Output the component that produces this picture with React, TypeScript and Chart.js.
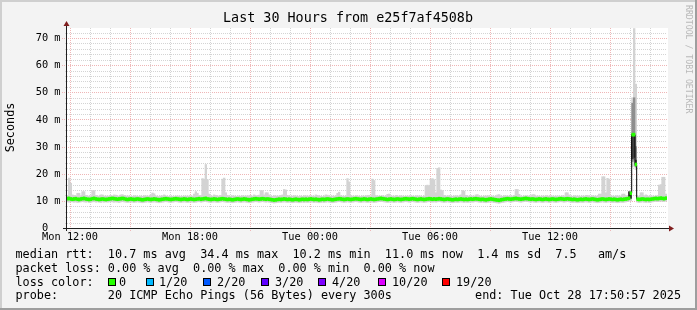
import React, { useEffect, useRef } from 'react';
import { Chart, registerables } from 'chart.js';

Chart.register(...registerables);

const W = 697;
const H = 310;
const MONO = '"DejaVu Sans Mono", "Liberation Mono", monospace';

// ---- time axis (hours relative to Mon 12:00) ----
const X_MIN = -0.1508; // Mon 11:50:57
const X_MAX = 29.8492; // Tue 17:50:57
const FIRST_STEP_CENTER = -0.125; // centre of the 11:50-11:55 step
const STEP_HOURS = 1 / 12; // 5 minute steps
const Y_MAX = 73.7; // ms

const xTickHours = [0, 6, 12, 18, 24];
const xTickLabels = ['Mon 12:00', 'Mon 18:00', 'Tue 00:00', 'Tue 06:00', 'Tue 12:00'];
const yTickValues = [0, 10, 20, 30, 40, 50, 60, 70];
const yTickLabels = ['0  ', '10 m', '20 m', '30 m', '40 m', '50 m', '60 m', '70 m'];

// ---- median rtt (ms), one value per 5 minute step ----
const medianRtt: number[] = [
  10.8, 10.9, 10.7, 10.6, 10.7, 10.8, 10.6, 10.5, 10.7, 10.8, 10.9, 10.7, 10.6, 10.5, 10.6, 10.8, 10.9, 10.7, 10.6, 10.5, 10.6, 10.7, 10.6, 10.5,
  10.6, 10.7, 10.8, 10.9, 10.8, 10.7, 10.6, 10.7, 10.8, 10.9, 10.8, 10.6, 10.5, 10.6, 10.7, 10.6, 10.5, 10.6, 10.7, 10.6, 10.5, 10.4, 10.5, 10.6,
  10.7, 10.6, 10.5, 10.6, 10.7, 10.6, 10.5, 10.4, 10.5, 10.6, 10.7, 10.8, 10.7, 10.6, 10.5, 10.6, 10.7, 10.8, 10.7, 10.6, 10.5, 10.6, 10.7, 10.6,
  10.5, 10.6, 10.7, 10.6, 10.5, 10.6, 10.7, 10.8, 10.6, 10.7, 10.8, 10.9, 10.7, 10.6, 10.5, 10.6, 10.7, 10.6, 10.5, 10.6, 10.7, 10.8, 10.7, 10.6,
  10.5, 10.6, 10.5, 10.4, 10.5, 10.6, 10.7, 10.6, 10.5, 10.6, 10.7, 10.6, 10.5, 10.4, 10.5, 10.6, 10.7, 10.8, 10.7, 10.6, 10.7, 10.8, 10.7, 10.6,
  10.7, 10.6, 10.5, 10.4, 10.3, 10.4, 10.5, 10.6, 10.5, 10.6, 10.7, 10.6, 10.5, 10.6, 10.5, 10.4, 10.5, 10.6, 10.5, 10.4, 10.5, 10.6, 10.5, 10.6,
  10.5, 10.6, 10.7, 10.6, 10.5, 10.6, 10.5, 10.4, 10.5, 10.6, 10.5, 10.6, 10.7, 10.6, 10.5, 10.4, 10.5, 10.6, 10.7, 10.8, 10.7, 10.6, 10.5, 10.6,
  10.7, 10.6, 10.5, 10.6, 10.7, 10.8, 10.7, 10.6, 10.5, 10.6, 10.7, 10.6, 10.5, 10.6, 10.7, 10.6, 10.5, 10.6, 10.7, 10.8, 10.9, 10.8, 10.7, 10.6,
  10.5, 10.6, 10.7, 10.6, 10.5, 10.6, 10.7, 10.6, 10.5, 10.6, 10.7, 10.8, 10.7, 10.6, 10.7, 10.8, 10.7, 10.6, 10.5, 10.6, 10.7, 10.6, 10.5, 10.6,
  10.7, 10.8, 10.7, 10.6, 10.7, 10.6, 10.7, 10.8, 10.7, 10.6, 10.5, 10.6, 10.7, 10.6, 10.5, 10.4, 10.5, 10.6, 10.5, 10.6, 10.7, 10.6, 10.5, 10.6,
  10.5, 10.6, 10.7, 10.6, 10.7, 10.8, 10.7, 10.6, 10.5, 10.6, 10.5, 10.4, 10.5, 10.6, 10.7, 10.6, 10.5, 10.4, 10.3, 10.2, 10.4, 10.5, 10.6, 10.7,
  10.8, 10.7, 10.6, 10.7, 10.8, 10.9, 10.8, 10.7, 10.6, 10.7, 10.8, 10.9, 10.8, 10.7, 10.6, 10.7, 10.6, 10.5, 10.6, 10.7, 10.6, 10.5, 10.6, 10.7,
  10.6, 10.5, 10.6, 10.7, 10.6, 10.5, 10.6, 10.7, 10.8, 10.7, 10.6, 10.7, 10.8, 10.7, 10.6, 10.5, 10.6, 10.5, 10.4, 10.5, 10.6, 10.5, 10.6, 10.7,
  10.6, 10.5, 10.6, 10.7, 10.6, 10.5, 10.4, 10.5, 10.6, 10.7, 10.6, 10.5, 10.6, 10.7, 10.6, 10.5, 10.6, 10.5, 10.4, 10.5, 10.6, 10.5, 10.6, 10.7,
  10.8, 11.0, 12.8, 34.4, 34.4, 23.4, 10.6, 10.5, 10.6, 10.7, 10.6, 10.5, 10.6, 10.5, 10.6, 10.7, 10.8, 10.9, 10.8, 10.9, 11.0, 10.9, 10.8, 11.0,
];

// ---- smoke: highest ping per step (ms) ----
const smokeHigh: number[] = [
  11.8, 18.4, 16.5, 12.2, 12.0, 11.8, 12.8, 12.8, 11.9, 13.4, 13.4, 12.0, 11.8, 11.7, 11.9, 13.8, 13.8, 12.0, 11.8, 11.7, 12.2, 12.2, 11.8, 11.7,
  11.8, 11.7, 12.0, 11.9, 12.2, 12.1, 11.8, 11.7, 12.2, 12.3, 12.0, 11.8, 11.7, 11.8, 11.6, 11.7, 11.9, 11.8, 11.7, 11.6, 11.8, 11.7, 11.9, 11.8,
  11.8, 11.7, 12.2, 12.9, 12.6, 11.8, 11.7, 11.6, 11.8, 11.9, 12.2, 11.8, 11.7, 11.6, 11.8, 11.7, 11.6, 11.8, 11.7, 11.8, 11.6, 11.7, 11.8, 11.7,
  11.8, 11.7, 11.9, 11.8, 12.5, 13.4, 12.8, 11.9, 12.0, 18.2, 18.0, 23.4, 17.8, 12.5, 11.9, 11.8, 12.2, 12.0, 11.7, 11.8, 12.0, 18.0, 18.4, 13.0,
  12.0, 11.8, 11.7, 11.9, 11.8, 11.7, 11.6, 11.8, 11.7, 11.9, 11.8, 11.7, 11.9, 11.8, 12.0, 11.8, 12.2, 11.9, 11.8, 12.1, 13.8, 13.8, 12.2, 13.0,
  13.0, 12.2, 11.8, 11.7, 11.9, 11.8, 11.7, 11.8, 12.0, 12.2, 14.2, 14.0, 12.0, 11.8, 11.7, 11.8, 11.9, 11.8, 11.7, 11.6, 11.8, 11.7, 11.9, 11.8,
  11.8, 11.7, 11.9, 11.8, 11.7, 12.2, 12.0, 11.8, 11.7, 11.6, 11.8, 12.2, 12.1, 11.8, 11.7, 11.8, 11.7, 11.9, 12.8, 13.2, 11.9, 11.8, 11.7, 11.8,
  18.2, 17.0, 12.0, 11.8, 11.7, 11.9, 11.8, 11.7, 11.6, 11.8, 11.7, 11.9, 11.8, 12.0, 11.8, 18.0, 17.5, 11.9, 11.8, 11.7, 11.8, 11.9, 11.7, 11.8,
  12.4, 12.5, 11.9, 11.8, 11.7, 12.0, 11.8, 11.7, 11.9, 11.8, 11.7, 11.6, 11.8, 11.7, 11.9, 11.8, 11.7, 11.8, 11.9, 11.7, 11.8, 11.6, 11.8, 15.6,
  15.8, 15.5, 18.0, 18.2, 17.8, 13.0, 22.0, 22.2, 14.0, 13.8, 12.0, 11.8, 11.7, 11.9, 11.8, 11.7, 11.8, 11.9, 11.7, 11.8, 12.2, 13.8, 13.6, 12.0,
  11.8, 11.7, 11.9, 11.8, 11.7, 12.2, 12.3, 11.8, 11.7, 11.6, 11.8, 11.7, 11.9, 11.8, 11.7, 11.8, 11.6, 11.8, 12.2, 12.3, 11.8, 11.7, 11.9, 11.8,
  11.8, 11.7, 11.9, 11.8, 12.0, 14.2, 14.2, 12.4, 11.8, 11.7, 11.8, 11.9, 11.7, 11.8, 11.9, 12.3, 12.3, 11.8, 11.7, 11.8, 11.6, 11.8, 11.7, 11.9,
  11.8, 11.7, 11.9, 11.8, 11.7, 11.8, 11.6, 11.8, 11.7, 11.9, 11.8, 13.0, 13.0, 12.2, 11.8, 11.7, 11.9, 11.8, 11.7, 11.8, 11.6, 11.8, 11.7, 12.0,
  12.0, 11.8, 11.7, 11.9, 11.8, 11.7, 11.8, 12.5, 12.5, 18.9, 18.9, 13.0, 18.3, 18.0, 11.9, 11.8, 11.7, 11.8, 11.9, 11.7, 11.8, 12.5, 12.5, 11.9,
  11.8, 12.6, 13.5, 48.0, 73.5, 53.0, 11.8, 11.7, 13.0, 13.0, 11.9, 12.2, 11.8, 11.7, 11.9, 11.8, 11.7, 11.8, 11.9, 15.8, 16.0, 18.7, 18.7, 12.5,
];

// ---- smoke: lowest ping per step (ms) ----
const smokeLow: number[] = [
  9.6, 9.5, 9.7, 9.6, 9.5, 9.6, 9.4, 9.5, 9.6, 9.7, 9.6, 9.5, 9.6, 9.4, 9.5, 9.6, 9.7, 9.5, 9.6, 9.5, 9.4, 9.6, 9.5, 9.6,
  9.5, 9.6, 9.7, 9.6, 9.5, 9.6, 9.5, 9.4, 9.6, 9.7, 9.6, 9.5, 9.4, 9.5, 9.6, 9.5, 9.4, 9.5, 9.6, 9.5, 9.4, 9.3, 9.4, 9.5,
  9.6, 9.5, 9.4, 9.5, 9.6, 9.5, 9.4, 9.3, 9.4, 9.5, 9.6, 9.7, 9.6, 9.5, 9.4, 9.5, 9.6, 9.7, 9.6, 9.5, 9.4, 9.5, 9.6, 9.5,
  9.4, 9.5, 9.6, 9.5, 9.4, 9.5, 9.6, 9.7, 9.5, 9.6, 9.7, 9.8, 9.6, 9.5, 9.4, 9.5, 9.6, 9.5, 9.4, 9.5, 9.6, 9.7, 9.6, 9.5,
  9.4, 9.5, 9.4, 9.3, 9.4, 9.5, 9.6, 9.5, 9.4, 9.5, 9.6, 9.5, 9.4, 9.3, 9.4, 9.5, 9.6, 9.7, 9.6, 9.5, 9.6, 9.7, 9.6, 9.5,
  9.6, 9.5, 9.4, 9.3, 9.2, 9.3, 9.4, 9.5, 9.4, 9.5, 9.6, 9.5, 9.4, 9.5, 9.4, 9.3, 9.4, 9.5, 9.4, 9.3, 9.4, 9.5, 9.4, 9.5,
  9.4, 9.5, 9.6, 9.5, 9.4, 9.5, 9.4, 9.3, 9.4, 9.5, 9.4, 9.5, 9.6, 9.5, 9.4, 9.3, 9.4, 9.5, 9.6, 9.7, 9.6, 9.5, 9.4, 9.5,
  9.6, 9.5, 9.4, 9.5, 9.6, 9.7, 9.6, 9.5, 9.4, 9.5, 9.6, 9.5, 9.4, 9.5, 9.6, 9.5, 9.4, 9.5, 9.6, 9.7, 9.8, 9.7, 9.6, 9.5,
  9.4, 9.5, 9.6, 9.5, 9.4, 9.5, 9.6, 9.5, 9.4, 9.5, 9.6, 9.7, 9.6, 9.5, 9.6, 9.7, 9.6, 9.5, 9.4, 9.5, 9.6, 9.5, 9.4, 9.5,
  9.6, 9.7, 9.6, 9.5, 9.6, 9.5, 9.6, 9.7, 9.6, 9.5, 9.4, 9.5, 9.6, 9.5, 9.4, 9.3, 9.4, 9.5, 9.4, 9.5, 9.6, 9.5, 9.4, 9.5,
  9.4, 9.5, 9.6, 9.5, 9.6, 9.7, 9.6, 9.5, 9.4, 9.5, 9.4, 9.3, 9.4, 9.5, 9.6, 9.5, 9.4, 9.3, 9.2, 9.1, 9.3, 9.4, 9.5, 9.6,
  9.7, 9.6, 9.5, 9.6, 9.7, 9.8, 9.7, 9.6, 9.5, 9.6, 9.7, 9.8, 9.7, 9.6, 9.5, 9.6, 9.5, 9.4, 9.5, 9.6, 9.5, 9.4, 9.5, 9.6,
  9.5, 9.4, 9.5, 9.6, 9.5, 9.4, 9.5, 9.6, 9.7, 9.6, 9.5, 9.6, 9.7, 9.6, 9.5, 9.4, 9.5, 9.4, 9.3, 9.4, 9.5, 9.4, 9.5, 9.6,
  9.5, 9.4, 9.5, 9.6, 9.5, 9.4, 9.3, 9.4, 9.5, 9.6, 9.5, 9.4, 9.5, 9.6, 9.5, 9.4, 9.5, 9.4, 9.3, 9.4, 9.5, 9.4, 9.5, 9.6,
  9.7, 9.9, 10.0, 22.5, 23.0, 21.5, 9.5, 9.4, 9.5, 9.6, 9.5, 9.4, 9.5, 9.4, 9.5, 9.6, 9.7, 9.8, 9.7, 9.8, 9.9, 9.8, 9.7, 9.9,
];

// ---- denser smoke around the latency spike ----
const spikeSteps = [337, 338, 339, 340, 341];
const spikeMidLow = [10.6, 10.8, 24.5, 25.0, 22.5];
const spikeMidHigh = [12.8, 13.2, 46.0, 48.0, 30.0];
const spikeDarkLow = [11.0, 11.0, 25.5, 26.0, 23.0];
const spikeDarkHigh = [13.4, 13.0, 34.0, 34.0, 25.0];

// ---- legend ----
const legendRtt = 'median rtt:  10.7 ms avg  34.4 ms max  10.2 ms min  11.0 ms now  1.4 ms sd  7.5   am/s';
const legendLoss = 'packet loss: 0.00 % avg  0.00 % max  0.00 % min  0.00 % now';
const lossLabels = ['0', '1/20', '2/20', '3/20', '4/20', '10/20', '19/20'];
const lossColors = ['#26ff00', '#00b8ff', '#0059ff', '#5e00ff', '#7e00ff', '#dd00ff', '#ff0000'];
const lossBoxX = [108, 146, 203, 261, 318, 378, 442];
const lossTextX = [119, 159, 217, 275, 332, 392, 456];
const probeText = 'probe:       20 ICMP Echo Pings (56 Bytes) every 300s';
const endText = 'end: Tue Oct 28 17:50:57 2025';
const titleText = 'Last 30 Hours from e25f7af4508b';
const yTitle = 'Seconds';
const watermark = 'RRDTOOL / TOBI OETIKER';

const stepHour = (j: number) => FIRST_STEP_CENTER + j * STEP_HOURS;

const rrdPlugin = {
  id: 'rrd',
  beforeDraw(chart: any) {
    const { ctx, chartArea: a } = chart;
    ctx.save();
    ctx.fillStyle = '#f3f3f3';
    ctx.fillRect(0, 0, W, H);
    ctx.fillStyle = '#cfcfcf';
    ctx.fillRect(0, 0, W, 2);
    ctx.fillRect(0, 0, 2, H);
    ctx.fillStyle = '#9e9e9e';
    ctx.fillRect(0, H - 2, W, 2);
    ctx.fillRect(W - 2, 0, 2, H);
    ctx.fillStyle = '#ffffff';
    ctx.fillRect(a.left, a.top, a.right - a.left + 1, a.bottom - a.top);
    ctx.restore();
  },
  beforeDatasetsDraw(chart: any) {
    const { ctx, chartArea: a, scales } = chart;
    const xs = scales.x;
    const ys = scales.y;
    ctx.save();
    ctx.lineWidth = 1;
    ctx.setLineDash([1, 1]);
    // horizontal grid
    for (let v = 2; v < Y_MAX; v += 2) {
      const major = v % 10 === 0;
      const y = Math.round(ys.getPixelForValue(v)) + 0.5;
      ctx.strokeStyle = major ? '#efb6b6' : '#d4d4d4';
      ctx.beginPath();
      ctx.moveTo(major ? a.left - 5 : a.left - 2, y);
      ctx.lineTo(a.right, y);
      ctx.stroke();
    }
    // vertical grid
    for (let h = 0; h <= 29; h++) {
      const major = h % 3 === 0;
      const x = Math.round(xs.getPixelForValue(h)) + 0.5;
      ctx.strokeStyle = major ? '#efb6b6' : '#d4d4d4';
      ctx.beginPath();
      ctx.moveTo(x, a.top);
      ctx.lineTo(x, major ? a.bottom + 3 : a.bottom);
      ctx.stroke();
    }
    ctx.restore();
  },
  afterDatasetsDraw(chart: any) {
    const { ctx, chartArea: a, scales } = chart;
    const xs = scales.x;
    const ys = scales.y;
    ctx.save();
    // axes
    ctx.strokeStyle = '#1f1f1f';
    ctx.lineWidth = 1;
    ctx.beginPath();
    ctx.moveTo(a.left - 4, a.bottom + 0.5);
    ctx.lineTo(a.right + 3, a.bottom + 0.5);
    ctx.moveTo(a.left - 0.5, a.bottom + 3);
    ctx.lineTo(a.left - 0.5, a.top - 4);
    ctx.stroke();
    // arrows
    ctx.fillStyle = '#801f1f';
    ctx.beginPath();
    ctx.moveTo(a.left - 0.5, a.top - 7);
    ctx.lineTo(a.left - 3.5, a.top - 2);
    ctx.lineTo(a.left + 2.5, a.top - 2);
    ctx.closePath();
    ctx.fill();
    ctx.beginPath();
    ctx.moveTo(a.right + 7, a.bottom + 0.5);
    ctx.lineTo(a.right + 2, a.bottom - 2.5);
    ctx.lineTo(a.right + 2, a.bottom + 3.5);
    ctx.closePath();
    ctx.fill();

    ctx.fillStyle = '#000';
    // title
    ctx.font = `13.4px ${MONO}`;
    ctx.textAlign = 'center';
    ctx.textBaseline = 'middle';
    ctx.fillText(titleText, 348, 19);

    // y ticks
    ctx.font = `10.3px ${MONO}`;
    ctx.textAlign = 'right';
    yTickValues.forEach((v, i) => {
      ctx.fillText(yTickLabels[i], 60.5, ys.getPixelForValue(v) + 0.5);
    });
    // x ticks
    ctx.textAlign = 'center';
    xTickHours.forEach((h, i) => {
      ctx.fillText(xTickLabels[i], xs.getPixelForValue(h), 237.5);
    });

    // y title
    ctx.font = `11.8px ${MONO}`;
    ctx.save();
    ctx.translate(11, 127.5);
    ctx.rotate(-Math.PI / 2);
    ctx.textAlign = 'center';
    ctx.fillText(yTitle, 0, 0);
    ctx.restore();

    // watermark
    ctx.save();
    ctx.fillStyle = '#b8b8b8';
    ctx.font = `8.2px ${MONO}`;
    ctx.translate(688, 5);
    ctx.rotate(Math.PI / 2);
    ctx.textAlign = 'left';
    ctx.fillText(watermark, 0, 0);
    ctx.restore();

    // legend
    ctx.font = `11.8px ${MONO}`;
    ctx.textAlign = 'left';
    ctx.fillText(legendRtt, 15.5, 254.5);
    ctx.fillText(legendLoss, 15.5, 268.5);
    ctx.fillText('loss color:', 15.5, 282.5);
    lossLabels.forEach((lab, i) => {
      ctx.fillStyle = lossColors[i];
      ctx.fillRect(lossBoxX[i], 278, 8, 8);
      ctx.strokeStyle = '#000';
      ctx.strokeRect(lossBoxX[i] + 0.5, 278.5, 7, 7);
      ctx.fillStyle = '#000';
      ctx.fillText(lab, lossTextX[i], 282.5);
    });
    ctx.fillText(probeText, 15.5, 296);
    ctx.textAlign = 'right';
    ctx.fillText(endText, 681, 296);
    ctx.restore();
  },
};

export default function App() {
  const ref = useRef<HTMLCanvasElement>(null);
  useEffect(() => {
    document.body.style.margin = '0';
    const outer = medianRtt.map((_, j) => ({ x: stepHour(j), y: [smokeLow[j], smokeHigh[j]] }));
    const mid = spikeSteps.map((j, i) => ({ x: stepHour(j), y: [spikeMidLow[i], spikeMidHigh[i]] }));
    const dark = spikeSteps.map((j, i) => ({ x: stepHour(j), y: [spikeDarkLow[i], spikeDarkHigh[i]] }));
    const medLine = medianRtt.map((m, j) => ({ x: stepHour(j), y: m }));
    const medBand = medianRtt.map((m, j) => ({ x: stepHour(j), y: [m - 0.55, m + 0.55] }));
    const barCommon = {
      type: 'bar' as const,
      grouped: false,
      barPercentage: 1,
      categoryPercentage: 1,
      borderWidth: 0,
    };
    const chart = new Chart(ref.current as HTMLCanvasElement, {
      type: 'bar',
      data: {
        datasets: [
          { ...barCommon, data: outer as any, backgroundColor: '#d3d3d3', order: 5 },
          { ...barCommon, data: mid as any, backgroundColor: '#8e8e8e', order: 4 },
          { ...barCommon, data: dark as any, backgroundColor: '#404040', order: 3 },
          {
            type: 'line' as const,
            data: medLine as any,
            borderColor: '#000000',
            borderWidth: 1,
            pointRadius: 0,
            stepped: 'middle',
            fill: false,
            order: 2,
          } as any,
          { ...barCommon, data: medBand as any, backgroundColor: '#26ff00', order: 1 },
        ],
      },
      options: {
        animation: false,
        responsive: false,
        events: [],
        layout: { padding: { left: 67, right: 30, top: 28, bottom: 82 } },
        plugins: {
          legend: { display: false },
          tooltip: { enabled: false },
          title: { display: false },
        },
        scales: {
          x: { type: 'linear', min: X_MIN, max: X_MAX, display: false, offset: false },
          y: { type: 'linear', min: 0, max: Y_MAX, display: false },
        },
      },
      plugins: [rrdPlugin],
    } as any);
    return () => chart.destroy();
  }, []);
  return <canvas ref={ref} width={W} height={H} style={{ display: 'block', width: W, height: H }} />;
}
